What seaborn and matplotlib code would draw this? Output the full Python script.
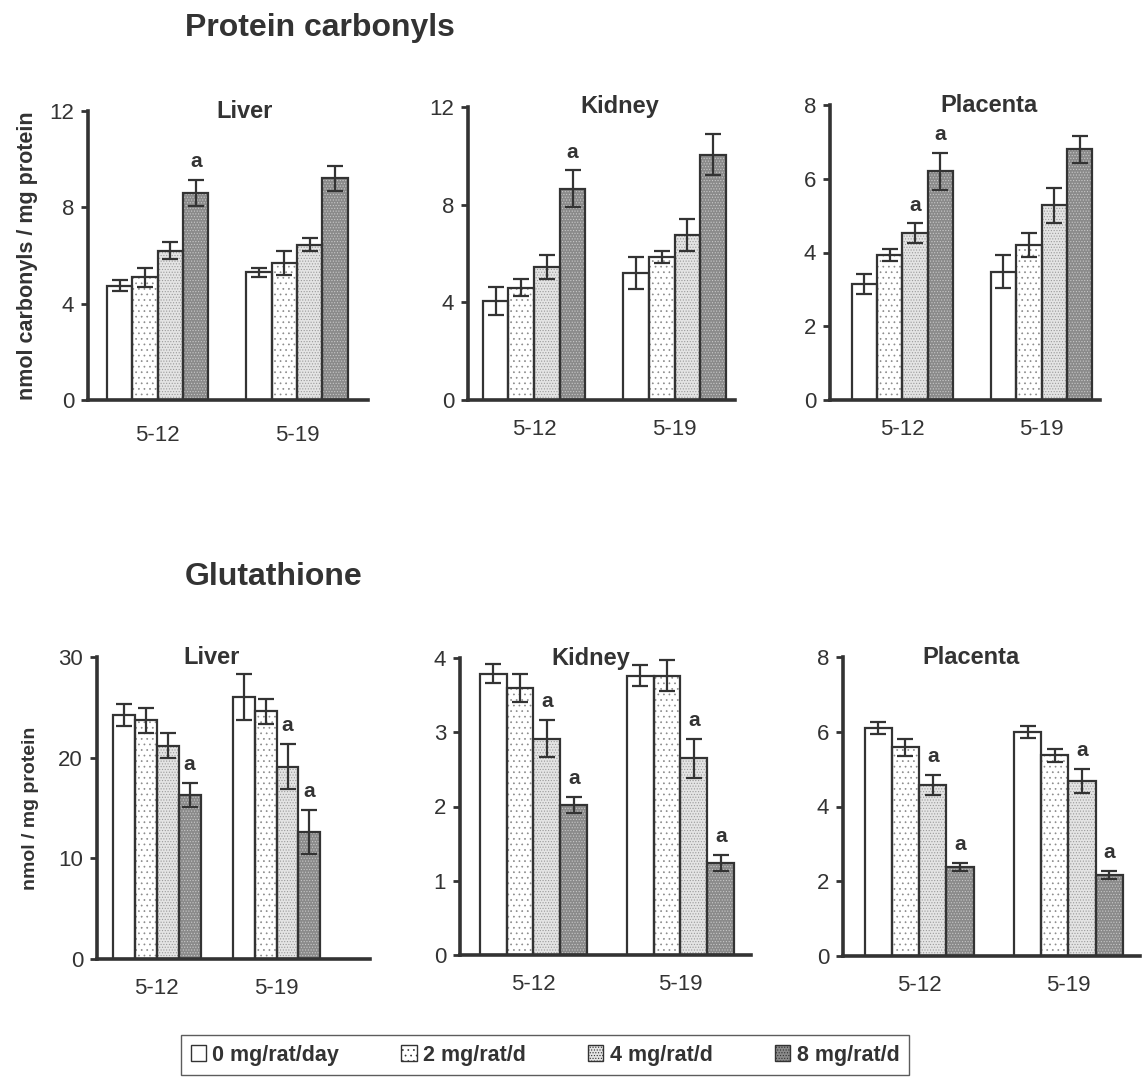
import matplotlib
matplotlib.use("Agg")
import matplotlib.pyplot as plt
import matplotlib.patches as mpatches
import seaborn as sns
import pandas as pd

weeks = ['5-12', '5-19']
doses = ['0 mg/rat/day', '2 mg/rat/d', '4 mg/rat/d', '8 mg/rat/d']

# mean and SE, rows = weeks, cols = doses
carb_liver_mean = [[4.75, 5.1, 6.2, 8.6], [5.3, 5.7, 6.45, 9.2]]
carb_liver_err = [[0.23, 0.4, 0.35, 0.55], [0.18, 0.5, 0.28, 0.52]]
carb_kidney_mean = [[4.05, 4.6, 5.45, 8.65], [5.2, 5.85, 6.75, 10.05]]
carb_kidney_err = [[0.58, 0.35, 0.5, 0.75], [0.65, 0.25, 0.65, 0.85]]
carb_placenta_mean = [[3.15, 3.93, 4.52, 6.2], [3.48, 4.2, 5.28, 6.8]]
carb_placenta_err = [[0.28, 0.17, 0.27, 0.5], [0.45, 0.33, 0.48, 0.37]]

gsh_liver_mean = [[24.2, 23.7, 21.2, 16.3], [26.0, 24.6, 19.1, 12.6]]
gsh_liver_err = [[1.1, 1.2, 1.25, 1.2], [2.3, 1.25, 2.25, 2.2]]
gsh_kidney_mean = [[3.79, 3.6, 2.91, 2.02], [3.76, 3.76, 2.65, 1.24]]
gsh_kidney_err = [[0.13, 0.19, 0.25, 0.11], [0.14, 0.21, 0.26, 0.11]]
gsh_placenta_mean = [[6.1, 5.58, 4.58, 2.38], [6.0, 5.37, 4.68, 2.17]]
gsh_placenta_err = [[0.15, 0.22, 0.26, 0.11], [0.16, 0.17, 0.32, 0.1]]

# (week, dose) pairs marked "a"
carb_liver_sig = [(0, 3)]
carb_kidney_sig = [(0, 3)]
carb_placenta_sig = [(0, 2), (0, 3)]
gsh_liver_sig = [(0, 3), (1, 2), (1, 3)]
gsh_kidney_sig = [(0, 2), (0, 3), (1, 2), (1, 3)]
gsh_placenta_sig = [(0, 2), (0, 3), (1, 2), (1, 3)]

carb_liver_ticks = [0, 4, 8, 12]
carb_kidney_ticks = [0, 4, 8, 12]
carb_placenta_ticks = [0, 2, 4, 6, 8]
gsh_liver_ticks = [0, 10, 20, 30]
gsh_kidney_ticks = [0, 1, 2, 3, 4]
gsh_placenta_ticks = [0, 2, 4, 6, 8]

DARK = '#333333'
fills = ['#ffffff', '#ffffff', '#e4e4e4', '#8a8a8a']
dot_colors = ['#ffffff', '#8a8a8a', '#9a9a9a', '#c8c8c8']
hatches = [None, '...', '......', '......']

sns.set_style('white')
plt.rcParams['font.family'] = ['Liberation Sans', 'DejaVu Sans']
plt.rcParams['hatch.linewidth'] = 0.5
plt.rcParams['text.color'] = DARK
plt.rcParams['axes.labelcolor'] = DARK
plt.rcParams['xtick.color'] = DARK
plt.rcParams['ytick.color'] = DARK

W, H = 1145, 1078
fig = plt.figure(figsize=(W / 100, H / 100), dpi=100)


def add_axes(x0, ybot, w, h):
    return fig.add_axes([x0 / W, 1 - ybot / H, w / W, h / H])


def panel(ax, means, errs, sig, title, title_x, ticks, ylim, xlim, xlab_pad):
    rows = []
    for wi, wk in enumerate(weeks):
        for di, d in enumerate(doses):
            rows.append({'week': wk, 'dose': d, 'value': means[wi][di]})
    df = pd.DataFrame(rows)
    sns.barplot(data=df, x='week', y='value', hue='dose', order=weeks,
                hue_order=doses, palette=fills, width=0.73, gap=0,
                errorbar=None, linewidth=0, legend=False, ax=ax)
    span = ylim[1] - ylim[0]
    bar_conts = list(ax.containers)
    for di, cont in enumerate(bar_conts):
        for wi, bar in enumerate(cont.patches):
            # hatch takes the edge colour; the outline is drawn separately
            bar.set_facecolor(fills[di])
            bar.set_edgecolor(dot_colors[di])
            bar.set_linewidth(0)
            bar.set_hatch(hatches[di])
            ax.add_patch(mpatches.Rectangle(bar.get_xy(), bar.get_width(),
                                            bar.get_height(), fill=False,
                                            edgecolor=DARK, linewidth=1.6,
                                            zorder=3))
            cx = bar.get_x() + bar.get_width() / 2
            m, e = means[wi][di], errs[wi][di]
            ax.errorbar(cx, m, yerr=e, fmt='none', ecolor=DARK,
                        elinewidth=1.6, capsize=5.5, capthick=1.6, zorder=5)
            if (wi, di) in sig:
                ax.text(cx, m + e + 0.03 * span, 'a', ha='center',
                        va='bottom', fontsize=15, fontweight='bold')
    ax.set_ylim(*ylim)
    ax.set_xlim(*xlim)
    ax.set_yticks(ticks)
    ax.set_yticklabels([str(t) for t in ticks])
    ax.set_xlabel('')
    ax.set_ylabel('')
    sns.despine(ax=ax)
    for s in ['left', 'bottom']:
        ax.spines[s].set_linewidth(2.6)
        ax.spines[s].set_color(DARK)
        ax.spines[s].set_zorder(6)
    ax.tick_params(axis='y', direction='out', length=5, width=2,
                   labelsize=16, pad=5, left=True)
    ax.tick_params(axis='x', length=0, labelsize=16, pad=xlab_pad)
    ax.text(title_x, 1.0, title, transform=ax.transAxes, ha='center',
            va='center', fontsize=17, fontweight='bold')


# Protein carbonyls
ax = add_axes(88, 400, 280, 289)
panel(ax, carb_liver_mean, carb_liver_err, carb_liver_sig, 'Liver', 0.56,
      carb_liver_ticks, (0, 12), (-0.5, 1.51), 18)
ax.set_ylabel('nmol carbonyls / mg protein', fontsize=15.5,
              fontweight='bold', labelpad=8)

ax = add_axes(468, 400, 267, 293)
panel(ax, carb_kidney_mean, carb_kidney_err, carb_kidney_sig, 'Kidney', 0.57,
      carb_kidney_ticks, (0, 12), (-0.47, 1.43), 14)

ax = add_axes(830, 400, 270, 295)
panel(ax, carb_placenta_mean, carb_placenta_err, carb_placenta_sig,
      'Placenta', 0.59, carb_placenta_ticks, (0, 8), (-0.52, 1.42), 14)

# Glutathione
ax = add_axes(97, 959, 273, 302)
panel(ax, gsh_liver_mean, gsh_liver_err, gsh_liver_sig, 'Liver', 0.42,
      gsh_liver_ticks, (0, 30), (-0.5, 1.78), 14)
ax.set_ylabel('nmol / mg protein', fontsize=14, fontweight='bold',
              labelpad=14)

ax = add_axes(460, 955, 291, 297)
panel(ax, gsh_kidney_mean, gsh_kidney_err, gsh_kidney_sig, 'Kidney', 0.45,
      gsh_kidney_ticks, (0, 4), (-0.5, 1.48), 14)

ax = add_axes(843, 956, 297, 299)
panel(ax, gsh_placenta_mean, gsh_placenta_err, gsh_placenta_sig, 'Placenta',
      0.43, gsh_placenta_ticks, (0, 8), (-0.51, 1.48), 14)

fig.text(185 / W, 1 - 28 / H, 'Protein carbonyls', fontsize=23,
         fontweight='bold', va='center', ha='left')
fig.text(185 / W, 1 - 577 / H, 'Glutathione', fontsize=23,
         fontweight='bold', va='center', ha='left')

handles = [mpatches.Patch(facecolor=fills[i], edgecolor=DARK, hatch=hatches[i],
                          linewidth=1.0, label=doses[i]) for i in range(4)]
leg = fig.legend(handles=handles, loc='center', ncol=4,
                 bbox_to_anchor=(545 / W, 1 - 1055 / H), frameon=True,
                 fancybox=False, edgecolor=DARK, handlelength=0.7,
                 handleheight=0.7, handletextpad=0.3, columnspacing=2.9,
                 borderpad=0.45, prop={'weight': 'bold', 'size': 15.5})
leg.get_frame().set_linewidth(1.0)

fig.savefig('out.png', dpi=100)
